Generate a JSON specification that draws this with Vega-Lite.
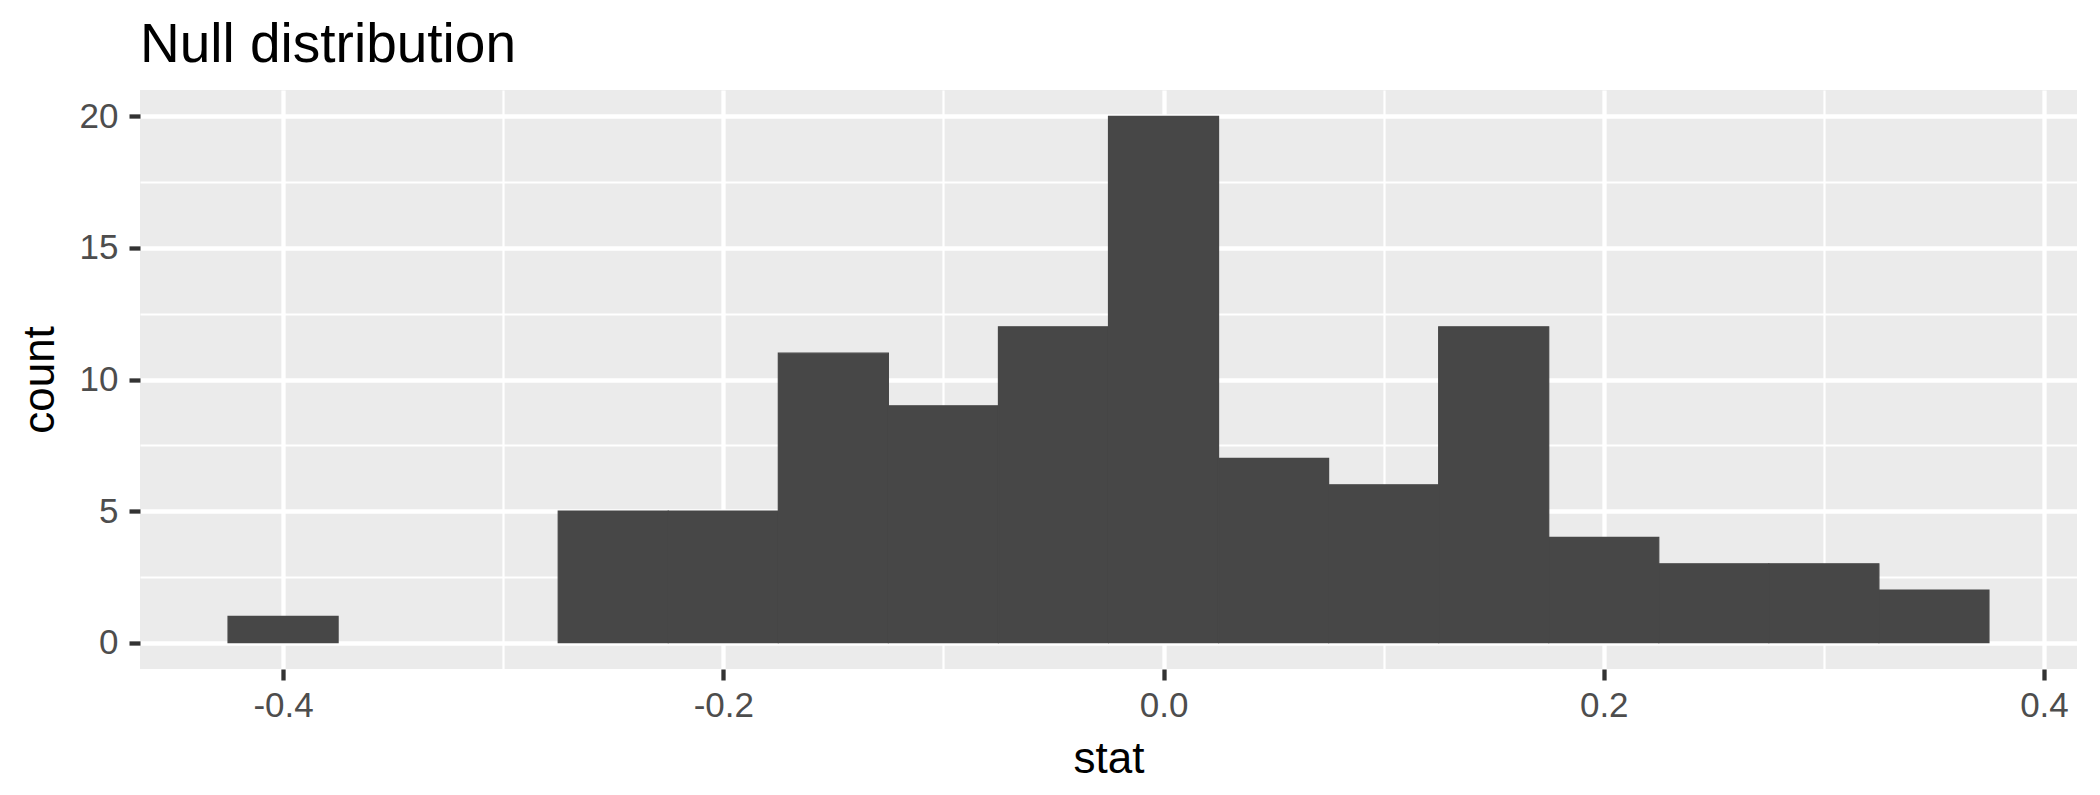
{
  "$schema": "https://vega.github.io/schema/vega-lite/v6.json",
  "width": 1937,
  "height": 579,
  "autosize": {"type": "none"},
  "padding": {"left": 140, "top": 90, "right": 23, "bottom": 126},
  "background": "white",
  "config": {
    "view": {"fill": "#EBEBEB", "stroke": null},
    "font": "Liberation Sans",
    "axis": {
      "domain": false,
      "grid": true,
      "gridColor": "white",
      "tickColor": "#333333",
      "tickSize": 11,
      "labelFont": "Liberation Sans",
      "labelFontSize": 35,
      "labelColor": "#4D4D4D",
      "labelOverlap": false,
      "labelFlush": false,
      "titleFont": "Liberation Sans",
      "titleFontSize": 44,
      "titleFontWeight": "normal",
      "titleColor": "black"
    }
  },
  "title": {
    "text": "Null distribution",
    "anchor": "start",
    "frame": "group",
    "font": "Liberation Sans",
    "fontSize": 55,
    "fontWeight": "normal",
    "color": "black",
    "baseline": "alphabetic",
    "offset": 16,
    "dy": 43
  },
  "data": {
    "values": [
      {"bin_start": -0.425, "bin_end": -0.375, "count": 1},
      {"bin_start": -0.275, "bin_end": -0.225, "count": 5},
      {"bin_start": -0.225, "bin_end": -0.175, "count": 5},
      {"bin_start": -0.175, "bin_end": -0.125, "count": 11},
      {"bin_start": -0.125, "bin_end": -0.075, "count": 9},
      {"bin_start": -0.075, "bin_end": -0.025, "count": 12},
      {"bin_start": -0.025, "bin_end": 0.025, "count": 20},
      {"bin_start": 0.025, "bin_end": 0.075, "count": 7},
      {"bin_start": 0.075, "bin_end": 0.125, "count": 6},
      {"bin_start": 0.125, "bin_end": 0.175, "count": 12},
      {"bin_start": 0.175, "bin_end": 0.225, "count": 4},
      {"bin_start": 0.225, "bin_end": 0.275, "count": 3},
      {"bin_start": 0.275, "bin_end": 0.325, "count": 3},
      {"bin_start": 0.325, "bin_end": 0.375, "count": 2}
    ]
  },
  "mark": {"type": "bar", "color": "#474747", "stroke": "#474747", "strokeWidth": 1.2},
  "encoding": {
    "x": {
      "field": "bin_start",
      "type": "quantitative",
      "scale": {"domain": [-0.465, 0.415], "nice": false, "zero": false},
      "axis": {
        "title": "stat",
        "values": [-0.4, -0.3, -0.2, -0.1, 0, 0.1, 0.2, 0.3, 0.4],
        "labelExpr": "abs(round(datum.value * 10)) % 2 == 0 ? replace(format(datum.value, '.1f'), '\u2212', '-') : ''",
        "gridWidth": {"condition": {"test": "abs(round(datum.value * 10)) % 2 == 0", "value": 4.3}, "value": 2.2},
        "tickWidth": {"condition": {"test": "abs(round(datum.value * 10)) % 2 == 0", "value": 4.3}, "value": 0},
        "labelPadding": 8,
        "titlePadding": 14
      }
    },
    "x2": {"field": "bin_end"},
    "y": {
      "field": "count",
      "type": "quantitative",
      "scale": {"domain": [-1, 21], "nice": false, "zero": false},
      "axis": {
        "title": "count",
        "values": [0, 2.5, 5, 7.5, 10, 12.5, 15, 17.5, 20],
        "labelExpr": "datum.value % 5 == 0 ? format(datum.value, 'd') : ''",
        "gridWidth": {"condition": {"test": "datum.value % 5 == 0", "value": 4.3}, "value": 2.2},
        "tickWidth": {"condition": {"test": "datum.value % 5 == 0", "value": 4.3}, "value": 0},
        "labelPadding": 11,
        "titlePadding": 17
      }
    },
    "y2": {"datum": 0}
  }
}
